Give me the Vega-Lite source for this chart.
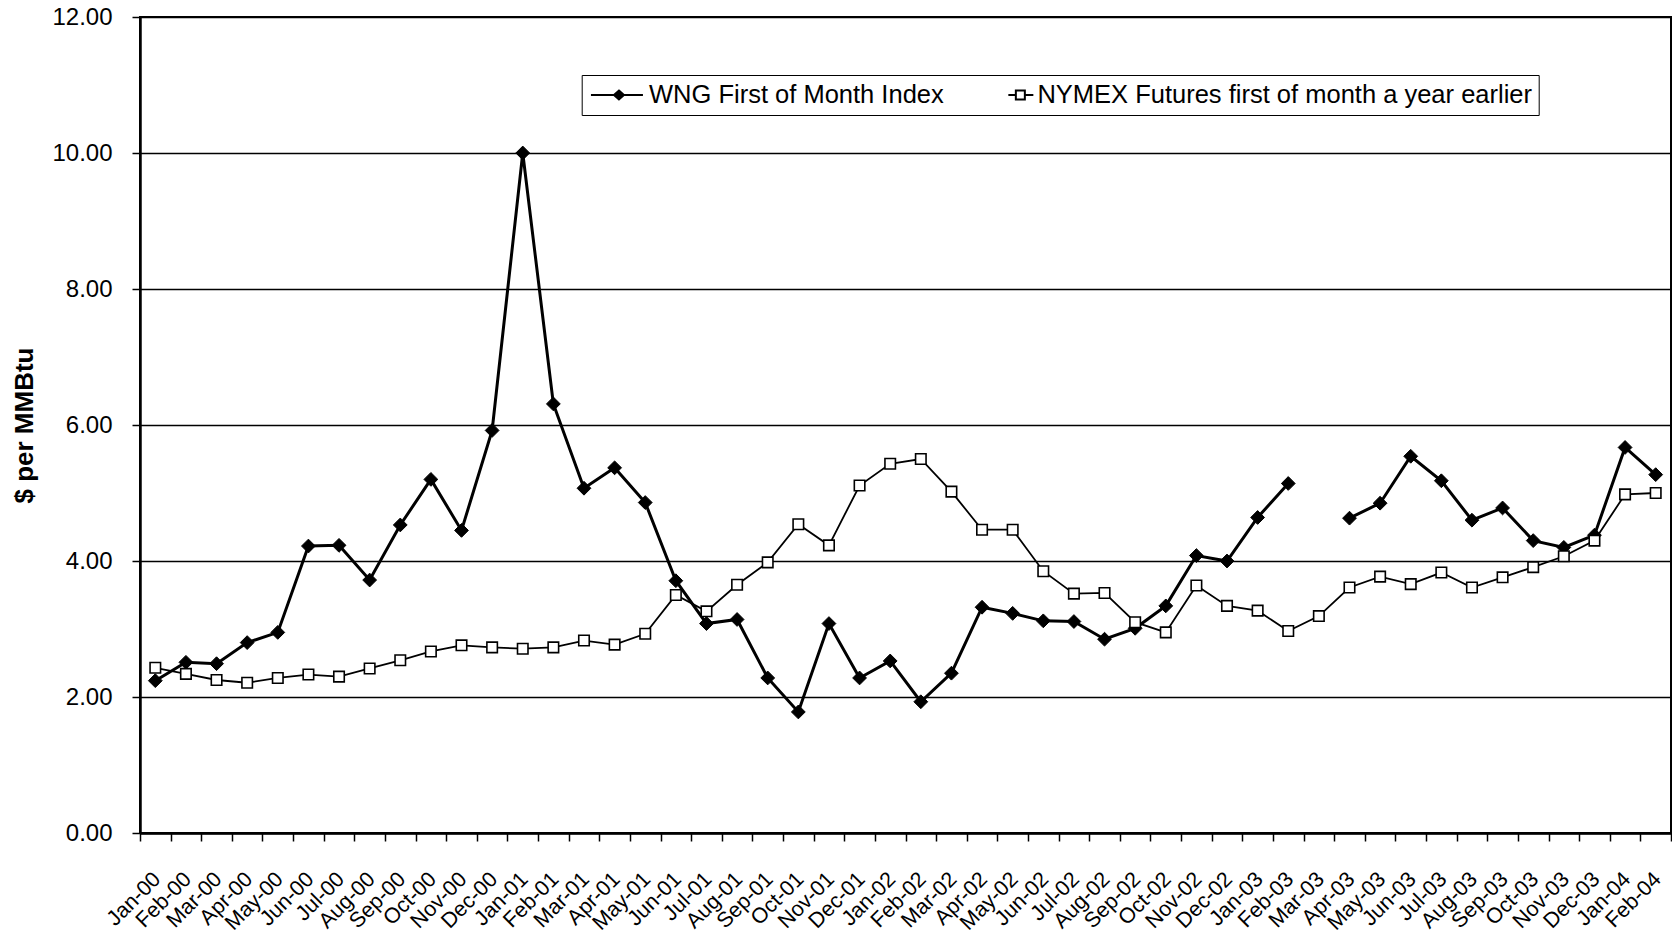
{
  "$schema": "https://vega.github.io/schema/vega-lite/v6.json",
  "width": 1531,
  "height": 816,
  "autosize": "none",
  "padding": {"left": 140, "top": 17, "right": 1, "bottom": 104},
  "background": "white",
  "config": {
    "font": "Liberation Sans",
    "view": {"stroke": "black", "strokeWidth": 2}
  },
  "data": {
    "values": [
      {"series": "WNG", "month": "Jan-00", "value": 2.24}, {"series": "WNG", "month": "Feb-00", "value": 2.51}, {"series": "WNG", "month": "Mar-00", "value": 2.49},
      {"series": "WNG", "month": "Apr-00", "value": 2.80}, {"series": "WNG", "month": "May-00", "value": 2.95}, {"series": "WNG", "month": "Jun-00", "value": 4.22},
      {"series": "WNG", "month": "Jul-00", "value": 4.23}, {"series": "WNG", "month": "Aug-00", "value": 3.72}, {"series": "WNG", "month": "Sep-00", "value": 4.53},
      {"series": "WNG", "month": "Oct-00", "value": 5.20}, {"series": "WNG", "month": "Nov-00", "value": 4.45}, {"series": "WNG", "month": "Dec-00", "value": 5.92},
      {"series": "WNG", "month": "Jan-01", "value": 10.00}, {"series": "WNG", "month": "Feb-01", "value": 6.31}, {"series": "WNG", "month": "Mar-01", "value": 5.07},
      {"series": "WNG", "month": "Apr-01", "value": 5.37}, {"series": "WNG", "month": "May-01", "value": 4.86}, {"series": "WNG", "month": "Jun-01", "value": 3.71},
      {"series": "WNG", "month": "Jul-01", "value": 3.08}, {"series": "WNG", "month": "Aug-01", "value": 3.14}, {"series": "WNG", "month": "Sep-01", "value": 2.28},
      {"series": "WNG", "month": "Oct-01", "value": 1.78}, {"series": "WNG", "month": "Nov-01", "value": 3.08}, {"series": "WNG", "month": "Dec-01", "value": 2.28},
      {"series": "WNG", "month": "Jan-02", "value": 2.53}, {"series": "WNG", "month": "Feb-02", "value": 1.93}, {"series": "WNG", "month": "Mar-02", "value": 2.35},
      {"series": "WNG", "month": "Apr-02", "value": 3.32}, {"series": "WNG", "month": "May-02", "value": 3.23}, {"series": "WNG", "month": "Jun-02", "value": 3.12},
      {"series": "WNG", "month": "Jul-02", "value": 3.11}, {"series": "WNG", "month": "Aug-02", "value": 2.85}, {"series": "WNG", "month": "Sep-02", "value": 3.01},
      {"series": "WNG", "month": "Oct-02", "value": 3.34}, {"series": "WNG", "month": "Nov-02", "value": 4.08}, {"series": "WNG", "month": "Dec-02", "value": 4.00},
      {"series": "WNG", "month": "Jan-03", "value": 4.64}, {"series": "WNG", "month": "Feb-03", "value": 5.14}, {"series": "WNG", "month": "Mar-03", "value": null},
      {"series": "WNG", "month": "Apr-03", "value": 4.63}, {"series": "WNG", "month": "May-03", "value": 4.85}, {"series": "WNG", "month": "Jun-03", "value": 5.54},
      {"series": "WNG", "month": "Jul-03", "value": 5.18}, {"series": "WNG", "month": "Aug-03", "value": 4.60}, {"series": "WNG", "month": "Sep-03", "value": 4.78},
      {"series": "WNG", "month": "Oct-03", "value": 4.30}, {"series": "WNG", "month": "Nov-03", "value": 4.20}, {"series": "WNG", "month": "Dec-03", "value": 4.38},
      {"series": "WNG", "month": "Jan-04", "value": 5.67}, {"series": "WNG", "month": "Feb-04", "value": 5.27},
      {"series": "NYMEX", "month": "Jan-00", "value": 2.43}, {"series": "NYMEX", "month": "Feb-00", "value": 2.34}, {"series": "NYMEX", "month": "Mar-00", "value": 2.25},
      {"series": "NYMEX", "month": "Apr-00", "value": 2.21}, {"series": "NYMEX", "month": "May-00", "value": 2.28}, {"series": "NYMEX", "month": "Jun-00", "value": 2.33},
      {"series": "NYMEX", "month": "Jul-00", "value": 2.30}, {"series": "NYMEX", "month": "Aug-00", "value": 2.42}, {"series": "NYMEX", "month": "Sep-00", "value": 2.54},
      {"series": "NYMEX", "month": "Oct-00", "value": 2.67}, {"series": "NYMEX", "month": "Nov-00", "value": 2.76}, {"series": "NYMEX", "month": "Dec-00", "value": 2.73},
      {"series": "NYMEX", "month": "Jan-01", "value": 2.71}, {"series": "NYMEX", "month": "Feb-01", "value": 2.73}, {"series": "NYMEX", "month": "Mar-01", "value": 2.83},
      {"series": "NYMEX", "month": "Apr-01", "value": 2.77}, {"series": "NYMEX", "month": "May-01", "value": 2.93}, {"series": "NYMEX", "month": "Jun-01", "value": 3.50},
      {"series": "NYMEX", "month": "Jul-01", "value": 3.26}, {"series": "NYMEX", "month": "Aug-01", "value": 3.65}, {"series": "NYMEX", "month": "Sep-01", "value": 3.98},
      {"series": "NYMEX", "month": "Oct-01", "value": 4.54}, {"series": "NYMEX", "month": "Nov-01", "value": 4.23}, {"series": "NYMEX", "month": "Dec-01", "value": 5.11},
      {"series": "NYMEX", "month": "Jan-02", "value": 5.43}, {"series": "NYMEX", "month": "Feb-02", "value": 5.50}, {"series": "NYMEX", "month": "Mar-02", "value": 5.02},
      {"series": "NYMEX", "month": "Apr-02", "value": 4.46}, {"series": "NYMEX", "month": "May-02", "value": 4.46}, {"series": "NYMEX", "month": "Jun-02", "value": 3.85},
      {"series": "NYMEX", "month": "Jul-02", "value": 3.52}, {"series": "NYMEX", "month": "Aug-02", "value": 3.53}, {"series": "NYMEX", "month": "Sep-02", "value": 3.10},
      {"series": "NYMEX", "month": "Oct-02", "value": 2.95}, {"series": "NYMEX", "month": "Nov-02", "value": 3.64}, {"series": "NYMEX", "month": "Dec-02", "value": 3.34},
      {"series": "NYMEX", "month": "Jan-03", "value": 3.27}, {"series": "NYMEX", "month": "Feb-03", "value": 2.97}, {"series": "NYMEX", "month": "Mar-03", "value": 3.19},
      {"series": "NYMEX", "month": "Apr-03", "value": 3.61}, {"series": "NYMEX", "month": "May-03", "value": 3.77}, {"series": "NYMEX", "month": "Jun-03", "value": 3.66},
      {"series": "NYMEX", "month": "Jul-03", "value": 3.83}, {"series": "NYMEX", "month": "Aug-03", "value": 3.61}, {"series": "NYMEX", "month": "Sep-03", "value": 3.76},
      {"series": "NYMEX", "month": "Oct-03", "value": 3.91}, {"series": "NYMEX", "month": "Nov-03", "value": 4.07}, {"series": "NYMEX", "month": "Dec-03", "value": 4.30},
      {"series": "NYMEX", "month": "Jan-04", "value": 4.98}, {"series": "NYMEX", "month": "Feb-04", "value": 5.00}
    ]
  },
  "encoding": {
    "x": {
      "field": "month",
      "type": "ordinal",
      "sort": null,
      "scale": {
        "type": "band", "paddingInner": 0, "paddingOuter": 0,
        "domain": ["Jan-00", "Feb-00", "Mar-00", "Apr-00", "May-00", "Jun-00", "Jul-00", "Aug-00", "Sep-00", "Oct-00", "Nov-00", "Dec-00",
                   "Jan-01", "Feb-01", "Mar-01", "Apr-01", "May-01", "Jun-01", "Jul-01", "Aug-01", "Sep-01", "Oct-01", "Nov-01", "Dec-01",
                   "Jan-02", "Feb-02", "Mar-02", "Apr-02", "May-02", "Jun-02", "Jul-02", "Aug-02", "Sep-02", "Oct-02", "Nov-02", "Dec-02",
                   "Jan-03", "Feb-03", "Mar-03", "Apr-03", "May-03", "Jun-03", "Jul-03", "Aug-03", "Sep-03", "Oct-03", "Nov-03", "Dec-03",
                   "Jan-04", "Feb-04"]
      },
      "axis": {
        "title": null,
        "labelAngle": -45,
        "labelAlign": "right",
        "labelBaseline": "top",
        "labelFont": "Liberation Sans",
        "labelFontSize": 21.5,
        "labelColor": "black",
        "labelPadding": 27,
        "labelOffset": -6,
        "labelOverlap": false,
        "tickBand": "extent",
        "ticks": true,
        "tickSize": 8,
        "tickColor": "black",
        "tickWidth": 1.5,
        "domainColor": "black",
        "domainWidth": 2.5,
        "grid": false
      }
    },
    "y": {
      "field": "value",
      "type": "quantitative",
      "scale": {"domain": [0, 12], "nice": false, "zero": true},
      "axis": {
        "title": "$ per MMBtu",
        "titleFont": "Liberation Sans",
        "titleFontSize": 26,
        "titleFontWeight": "bold",
        "titleColor": "black",
        "titlePadding": 14,
        "values": [0, 2, 4, 6, 8, 10, 12],
        "format": ".2f",
        "labelFont": "Liberation Sans",
        "labelFontSize": 24,
        "labelColor": "black",
        "labelPadding": 20,
        "tickSize": 8,
        "tickColor": "black",
        "tickWidth": 1.5,
        "domainColor": "black",
        "domainWidth": 2.5,
        "grid": true,
        "gridColor": "black",
        "gridWidth": 1.5,
        "gridOpacity": 1
      }
    }
  },
  "layer": [
    {
      "mark": {"type": "point", "filled": true, "opacity": 0, "strokeWidth": 2, "size": 625},
      "encoding": {
        "shape": {
          "field": "series",
          "type": "nominal",
          "scale": {"domain": ["WNG", "NYMEX"], "range": ["M-0.86,0H3.3M1.38,-0.36L1.78,0L1.38,0.36L0.98,0Z", "M1.46,0H2.06M2.78,0H3.46M2.06,-0.36H2.78V0.36H2.06Z"]},
          "legend": {
            "title": null, "orient": "none", "legendX": 441.7, "legendY": 58, "direction": "horizontal",
            "strokeColor": "black", "fillColor": "white", "padding": 6.5,
            "labelFont": "Liberation Sans", "labelFontSize": 25.5, "labelColor": "black", "labelLimit": 0,
            "labelExpr": "datum.label === 'WNG' ? 'WNG First of Month Index' : 'NYMEX Futures first of month a year earlier'",
            "symbolSize": 625, "symbolOpacity": 1, "symbolStrokeWidth": 2,
            "labelOffset": 33.8, "columnPadding": 32.4
          }
        },
        "fill": {
          "field": "series",
          "type": "nominal",
          "scale": {"domain": ["WNG", "NYMEX"], "range": ["black", "white"]},
          "legend": {
            "title": null, "orient": "none", "legendX": 441.7, "legendY": 58, "direction": "horizontal",
            "strokeColor": "black", "fillColor": "white", "padding": 6.5,
            "labelFont": "Liberation Sans", "labelFontSize": 25.5, "labelColor": "black", "labelLimit": 0,
            "labelExpr": "datum.label === 'WNG' ? 'WNG First of Month Index' : 'NYMEX Futures first of month a year earlier'",
            "symbolSize": 625, "symbolOpacity": 1, "symbolStrokeWidth": 2,
            "labelOffset": 33.8, "columnPadding": 32.4
          }
        },
        "stroke": {
          "field": "series",
          "type": "nominal",
          "scale": {"domain": ["WNG", "NYMEX"], "range": ["black", "black"]},
          "legend": {
            "title": null, "orient": "none", "legendX": 441.7, "legendY": 58, "direction": "horizontal",
            "strokeColor": "black", "fillColor": "white", "padding": 6.5,
            "labelFont": "Liberation Sans", "labelFontSize": 25.5, "labelColor": "black", "labelLimit": 0,
            "labelExpr": "datum.label === 'WNG' ? 'WNG First of Month Index' : 'NYMEX Futures first of month a year earlier'",
            "symbolSize": 625, "symbolOpacity": 1, "symbolStrokeWidth": 2,
            "labelOffset": 33.8, "columnPadding": 32.4
          }
        }
      }
    },
    {
      "transform": [{"filter": "datum.series === 'WNG'"}],
      "mark": {"type": "line", "color": "black", "strokeWidth": 3, "invalid": "break-paths-show-domains"},
      "encoding": {}
    },
    {
      "transform": [{"filter": "datum.series === 'WNG'"}],
      "mark": {"type": "point", "shape": "diamond", "filled": true, "fill": "black", "stroke": "black", "strokeWidth": 1, "size": 190, "opacity": 1},
      "encoding": {}
    },
    {
      "transform": [{"filter": "datum.series === 'NYMEX'"}],
      "mark": {"type": "line", "color": "black", "strokeWidth": 1.8},
      "encoding": {}
    },
    {
      "transform": [{"filter": "datum.series === 'NYMEX'"}],
      "mark": {"type": "point", "shape": "square", "filled": true, "fill": "white", "stroke": "black", "strokeWidth": 1.6, "size": 110, "opacity": 1},
      "encoding": {}
    }
  ]
}
